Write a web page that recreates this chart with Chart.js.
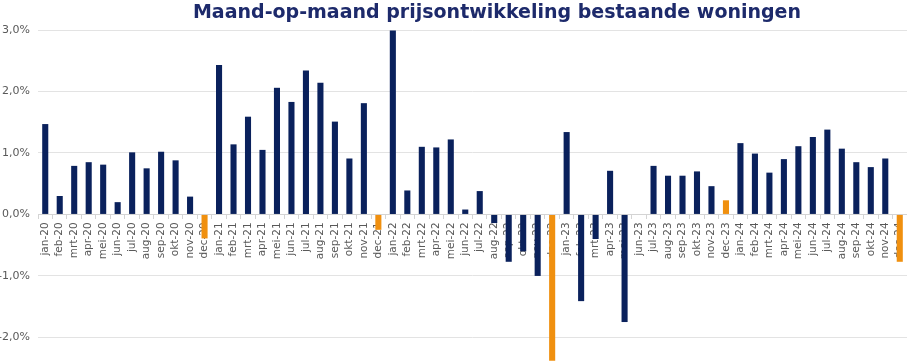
<!DOCTYPE html>
<html>
<head>
<meta charset="utf-8">
<script src="https://cdn.jsdelivr.net/npm/chart.js@4"></script>
<style>
  html, body { margin: 0; padding: 0; background: #fff; }
  #wrap { position: relative; width: 907px; height: 362px; overflow: hidden; }
  #title {
    position: absolute; top: 0; left: 497px; transform: translateX(-50%);
    white-space: nowrap; font-family: "DejaVu Sans", Verdana, sans-serif;
    font-weight: bold; font-size: 19px; line-height: 22px; color: #1d2a6b;
  }
</style>
</head>
<body>
<div id="wrap">
  <div id="title">Maand-op-maand prijsontwikkeling bestaande woningen</div>
  <canvas id="myChart" width="907" height="362"></canvas>
</div>
<script>
let months = ["jan", "feb", "mrt", "apr", "mei", "jun", "jul", "aug", "sep", "okt", "nov", "dec"];
let years = ["20", "21", "22", "23", "24"];
let labels = [];
years.forEach((y) => months.forEach((m) => labels.push(m + "-" + y)));

// maandelijkse prijsontwikkeling in %
let values2020 = [1.47, 0.30, 0.79, 0.85, 0.81, 0.20, 1.01, 0.75, 1.02, 0.88, 0.29, -0.39];
let values2021 = [2.43, 1.14, 1.59, 1.05, 2.06, 1.83, 2.34, 2.14, 1.51, 0.91, 1.81, -0.25];
let values2022 = [2.99, 0.39, 1.10, 1.09, 1.22, 0.08, 0.38, -0.14, -0.77, -0.60, -1.00, -2.38];
let values2023 = [1.34, -1.41, -0.40, 0.71, -1.75, 0.00, 0.79, 0.63, 0.63, 0.70, 0.46, 0.23];
let values2024 = [1.16, 0.99, 0.68, 0.90, 1.11, 1.26, 1.38, 1.07, 0.85, 0.77, 0.91, -0.77];
let values = [].concat(values2020, values2021, values2022, values2023, values2024);

let yTicks = [-2, -1, 0, 1, 2, 3];

let navy = "#0a215c";
let orange = "#f0900f";
let barColors = labels.map((l) => l.startsWith("dec") ? orange : navy);

const ctx = document.getElementById("myChart");
let chart = new Chart(ctx, {
    type: "bar",
    data: {
        labels: labels,
        datasets: [{
            data: values,
            backgroundColor: barColors,
            borderWidth: 0,
            barPercentage: 0.42,
            categoryPercentage: 1
        }]
    },
    options: {
        responsive: false,
        animation: false,
        layout: { padding: { top: 30, left: 0, right: 0, bottom: 0 } },
        plugins: {
            legend: { display: false },
            title: { display: false },
            tooltip: { enabled: false }
        },
        scales: {
            x: {
                position: { y: 0 },
                z: 1,
                afterFit: (scale) => {
                    scale.height = 0;
                    scale.paddingLeft = 0;
                    scale.paddingRight = 0;
                    scale.paddingTop = 0;
                    scale.paddingBottom = 0;
                },
                grid: { drawOnChartArea: false, tickLength: 4, color: "#d4d4d4" },
                border: { color: "#d4d4d4" },
                ticks: {
                    autoSkip: false,
                    minRotation: 90,
                    maxRotation: 90,
                    padding: 4,
                    color: "#595959",
                    font: { family: "DejaVu Sans", size: 10.5 }
                }
            },
            y: {
                min: -2.4,
                max: 3,
                afterBuildTicks: (scale) => { scale.ticks = yTicks.map((v) => ({ value: v })); },
                afterFit: (scale) => {
                    scale.width = 38;
                    scale.paddingTop = 0;
                    scale.paddingBottom = 0;
                },
                grid: { color: "#e3e3e3", drawTicks: false },
                border: { display: false },
                ticks: {
                    padding: 8,
                    color: "#595959",
                    font: { family: "DejaVu Sans", size: 11 },
                    callback: (v) => v.toFixed(1).replace(".", ",") + "%"
                }
            }
        }
    }
});
</script>
</body>
</html>
